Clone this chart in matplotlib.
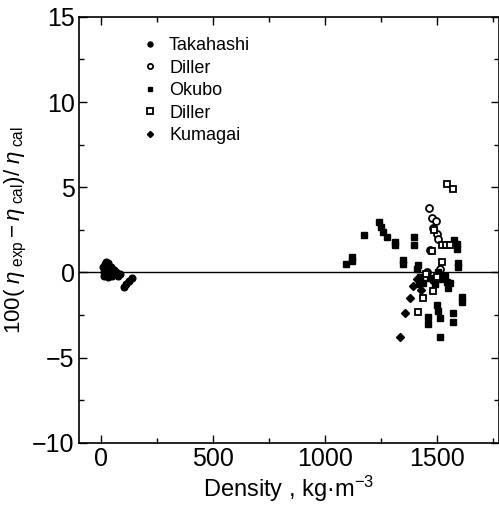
import matplotlib.pyplot as plt
from matplotlib.ticker import MultipleLocator

plt.rcParams['font.family'] = ['Liberation Sans', 'DejaVu Sans']
plt.rcParams['mathtext.fontset'] = 'custom'
plt.rcParams['mathtext.rm'] = 'Liberation Sans'
plt.rcParams['mathtext.it'] = 'Liberation Sans:italic'

# Takahashi (filled circles)
tak_x = [10, 12, 14, 15, 18, 20, 22, 25, 28, 30, 32, 35, 38, 40, 45, 48, 50, 55, 60, 65, 75, 85,
         100, 110, 125, 135]
tak_y = [0.3, 0.0, -0.2, 0.5, 0.2, -0.1, 0.6, 0.35, 0.1, -0.25, 0.55, 0.4, 0.2, -0.1, 0.3, 0.1,
         -0.2, 0.15, -0.05, 0.0, -0.2, -0.1, -0.85, -0.7, -0.5, -0.35]

# Diller (open circles)
dil1_x = [1464, 1478, 1496, 1482, 1500, 1504, 1469, 1455, 1513, 1482]
dil1_y = [3.8, 3.2, 3.0, 2.6, 2.25, 1.95, 1.3, 0.0, 0.2, -0.45]

# Okubo (filled squares)
oku_x = [1094, 1120, 1120, 1174, 1241, 1250, 1259, 1277, 1312, 1312, 1397, 1397, 1348, 1348,
         1415, 1576, 1589, 1589, 1594, 1594, 1612, 1612, 1571, 1571, 1513, 1500, 1504, 1513,
         1460, 1460, 1545, 1549, 1411, 1424, 1438, 1469, 1504, 1522, 1536, 1420, 1491, 1558]
oku_y = [0.47, 0.9, 0.65, 2.2, 2.95, 2.65, 2.4, 2.06, 1.8, 1.6, 2.06, 1.6, 0.5, 0.75,
         0.45, 1.9, 1.7, 1.4, 0.55, 0.3, -1.45, -1.75, -2.35, -2.9, -3.8, -1.9, -2.25, -2.65,
         -2.6, -3.05, -0.55, -0.9, 0.2, -0.25, -0.6, -0.3, 0.05, -0.4, -0.2, -0.7, -0.7, -0.6]

# Diller (open squares)
dil2_x = [1545, 1571, 1487, 1522, 1540, 1558, 1478, 1522, 1482, 1438, 1415, 1500, 1451]
dil2_y = [5.2, 4.9, 2.5, 1.6, 1.6, 1.6, 1.25, 0.6, -1.1, -1.5, -2.3, -0.25, -0.1]

# Kumagai (filled diamonds)
kum_x = [1379, 1357, 1335, 1393, 1411, 1429]
kum_y = [-1.5, -2.35, -3.8, -0.8, -0.4, -1.0]

fig = plt.figure(figsize=(4.99, 5.08), dpi=100)
ax = fig.add_axes([0.158, 0.128, 0.842, 0.839])

ax.axhline(0, color='black', lw=1.0, zorder=1)

ax.plot(tak_x, tak_y, 'o', color='black', ms=4.8, label='Takahashi')
ax.plot(dil1_x, dil1_y, 'o', mfc='white', mec='black', mew=1.3, ms=5, label='Diller')
ax.plot(oku_x, oku_y, 's', color='black', ms=4.6, label='Okubo')
ax.plot(dil2_x, dil2_y, 's', mfc='white', mec='black', mew=1.3, ms=5, label='Diller')
ax.plot(kum_x, kum_y, 'D', color='black', ms=4.2, label='Kumagai')

ax.set_xlim(-100, 1775)
ax.set_ylim(-10, 15)
ax.xaxis.set_major_locator(MultipleLocator(500))
ax.xaxis.set_minor_locator(MultipleLocator(250))
ax.yaxis.set_major_locator(MultipleLocator(5))
ax.yaxis.set_minor_locator(MultipleLocator(2.5))
ax.tick_params(which='both', direction='in', top=True, right=True, labelsize=18, width=1)
ax.tick_params(which='major', length=6, pad=3)
ax.tick_params(which='minor', length=3.5)
ax.set_yticks([-10, -5, 0, 5, 10, 15])
ax.set_yticklabels(['\u221210', '\u22125', '0', '5', '10', '15'])
for s in ax.spines.values():
    s.set_linewidth(1.2)

ax.set_xlabel('Density , kg\u00b7m$^{-3}$', fontsize=17, labelpad=2)
ax.set_ylabel(r'100( $\eta_{\rm\ exp}-\eta_{\rm\ cal}$)/ $\eta_{\rm\ cal}$', fontsize=16,
              labelpad=2)

ax.legend(loc='upper left', bbox_to_anchor=(0.105, 0.99), frameon=False, fontsize=13,
          handletextpad=0.45, labelspacing=0.3, handlelength=1.2, markerscale=0.75)

fig.savefig('out.png', dpi=100)
